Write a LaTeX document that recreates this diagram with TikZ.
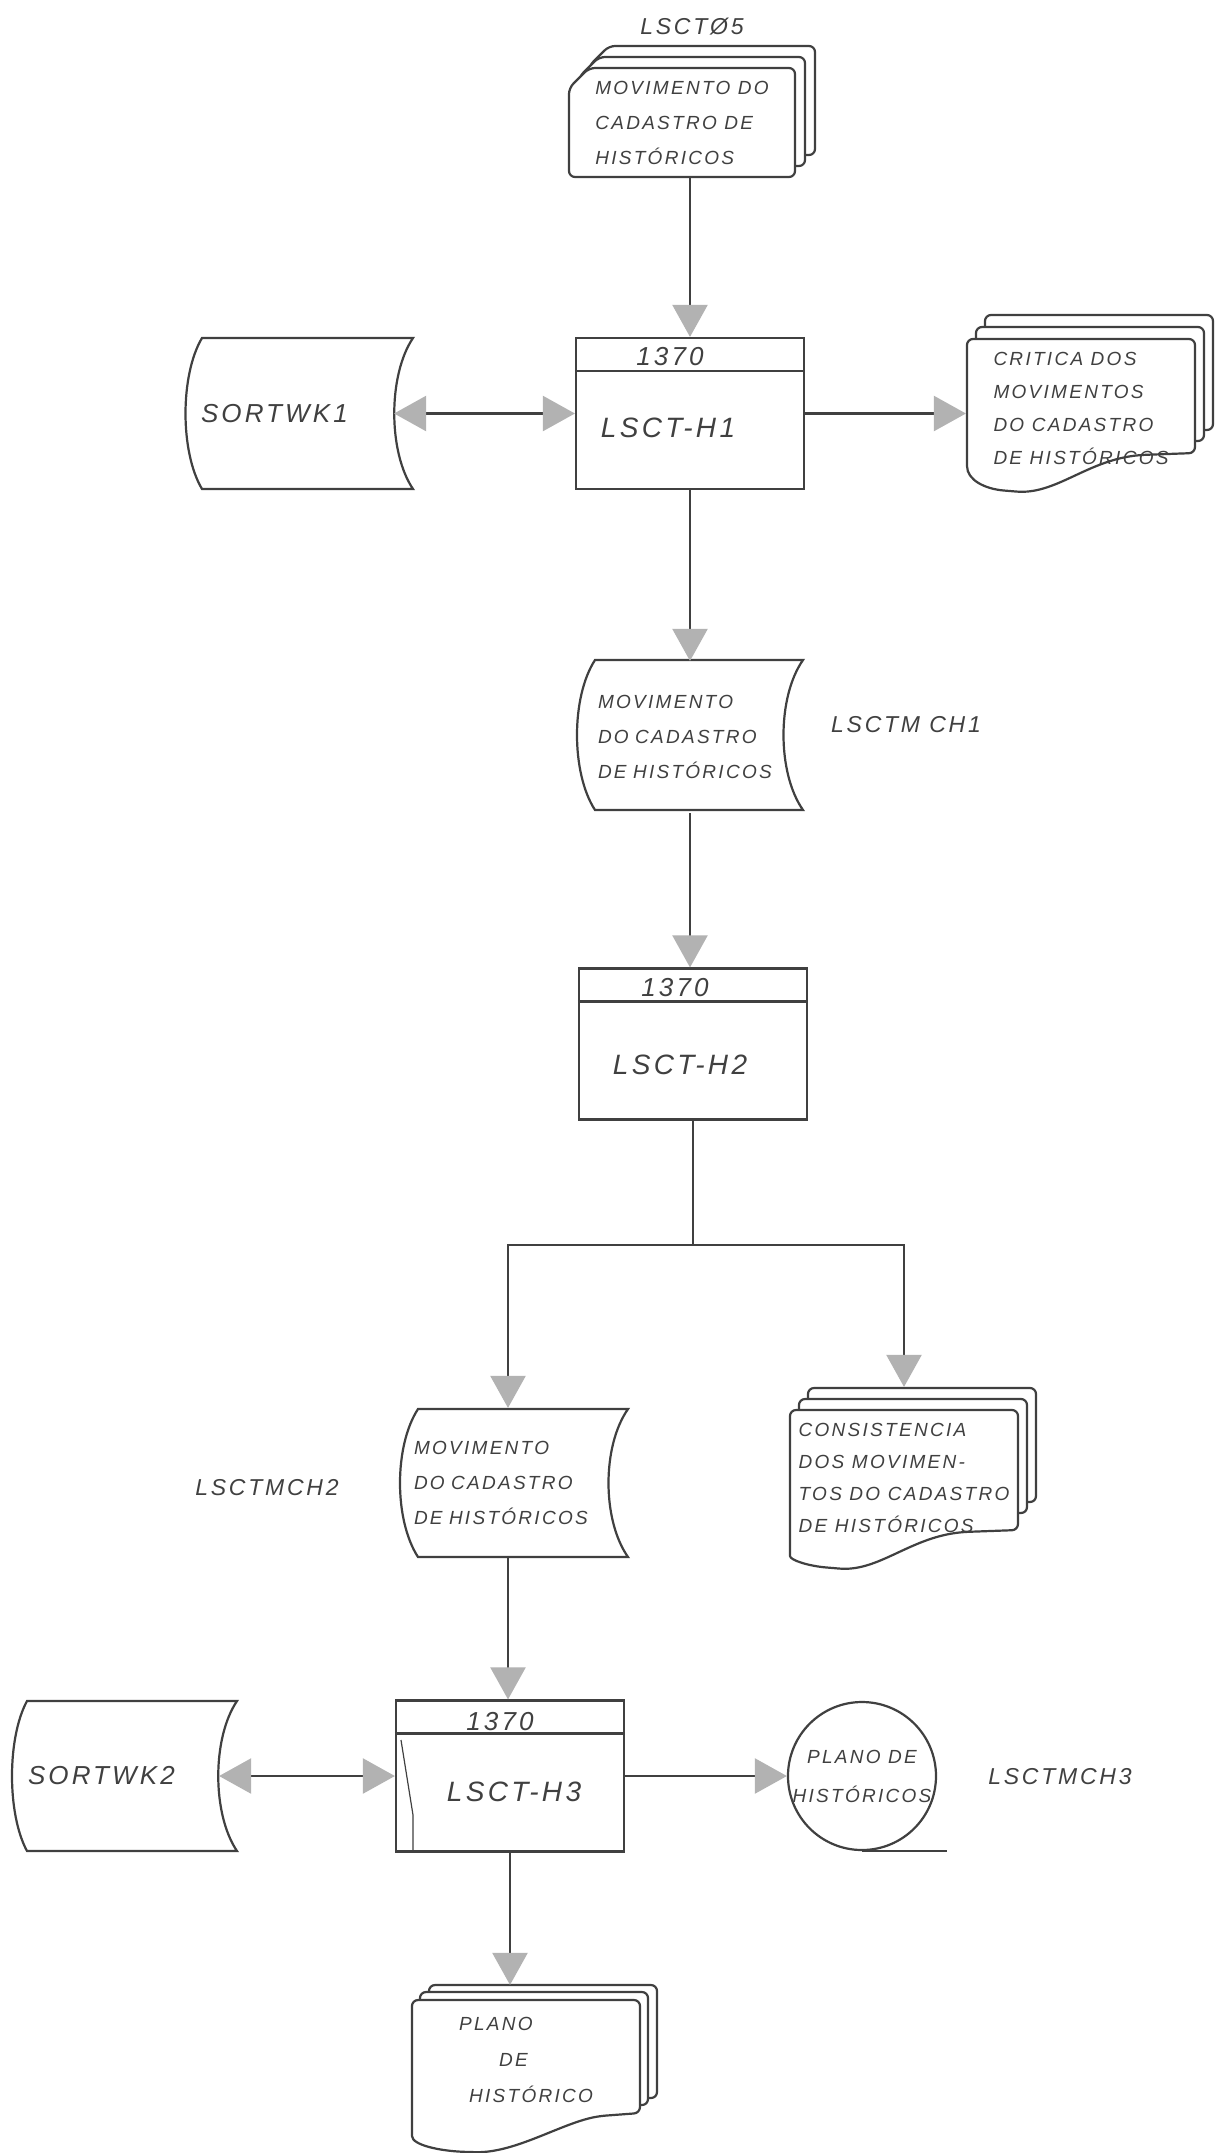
\documentclass[tikz,border=0pt]{standalone}
\usepackage{fontspec}
\setmainfont{Liberation Sans}[LetterSpace=12]
\usepackage{tikz}
\usetikzlibrary{positioning,arrows.meta,calc}

\definecolor{ink}{gray}{0.25}
\definecolor{tip}{gray}{0.70}

\begin{document}
\begin{tikzpicture}[x=0.5pt, y=-0.5pt, line width=1.1pt, color=ink,
  big/.style={font=\itshape\fontsize{14}{16}\selectfont},
  mid/.style={font=\itshape\fontsize{13}{15}\selectfont},
  lbl/.style={font=\itshape\fontsize{11.5}{14}\selectfont},
  txt/.style={font=\itshape\fontsize{9.5}{17.5}\selectfont, align=left},
  proc/.style={draw, minimum width=114pt, minimum height=75.5pt, inner sep=0pt},
  sheet/.style={fill=white, rounded corners=3pt},
  flow/.style={-{Triangle[length=16pt,width=17.5pt,color=tip]}},
  dflow/.style={{Triangle[length=16pt,width=17.5pt,color=tip]}-{Triangle[length=16pt,width=17.5pt,color=tip]}}]

  % Page
  \fill[white] (0,0) rectangle (1215,2153);
  \useasboundingbox (0,0) rectangle (1215,2153);

  % Input cards LSCT05
  \node[lbl] (c05lbl) at (692,27) {LSCTØ5};
  \filldraw[sheet] (589,66) -- (609,46) -- (815,46) -- (815,155) -- (589,155) -- cycle;
  \filldraw[sheet] (579,77) -- (599,57) -- (805,57) -- (805,166) -- (579,166) -- cycle;
  \filldraw[sheet] (569,88) -- (589,68) -- (795,68) -- (795,177) -- (569,177) -- cycle;
  \node[txt, minimum width=113pt, minimum height=54.5pt] (c05) at (682,122.5)
    {MOVIMENTO DO\\CADASTRO DE\\HISTÓRICOS};

  % Program LSCT-H1
  \node[proc] (h1) at (690,413.5) {};
  \draw ($(h1.north west)+(0,34)$) -- ($(h1.north east)+(0,34)$);
  \node[mid] (h1cpu) at (670,357) {1370};
  \node[big] (h1name) at (668,428) {LSCT-H1};

  % Work file SORTWK1
  \draw (202,338) -- (413,338) .. controls (388,375) and (388,452) .. (413,489)
    -- (202,489) .. controls (180,452) and (180,375) .. (202,338) -- cycle;
  \node[mid, align=left, text width=88pt, minimum width=104pt, minimum height=75.5pt] (sw1) at (289,413.5) {SORTWK1};

  % Report CRITICA
  \filldraw[sheet] (985,315) rectangle (1213,430);
  \filldraw[sheet] (976,327) rectangle (1204,441);
  \filldraw[sheet] (967,460) -- (967,339) -- (1195,339) -- (1195,453) -- (1140,455)
    .. controls (1085,462) and (1055,495) .. (1010,491)
    .. controls (985,489) and (967,480) .. (967,460) -- cycle;
  \node[txt, font=\itshape\fontsize{9.5}{16.5}\selectfont, minimum width=114pt, minimum height=64pt] (crit) at (1081,408)
    {CRITICA DOS\\MOVIMENTOS\\DO CADASTRO\\DE HISTÓRICOS};

  % Disk file LSCTMCH1
  \draw (595,660) -- (803,660) .. controls (777,697) and (777,773) .. (803,810)
    -- (595,810) .. controls (571,773) and (571,697) .. (595,660) -- cycle;
  \node[txt, text width=92pt, minimum width=103pt, minimum height=75pt] (mov2) at (690,737)
    {MOVIMENTO\\DO CADASTRO\\DE HISTÓRICOS};
  \node[lbl] (mch1) at (906,725) {LSCTM CH1};

  % Program LSCT-H2
  \node[proc] (h2) at (693,1044) {};
  \draw ($(h2.north west)+(0,34)$) -- ($(h2.north east)+(0,34)$);
  \node[mid] (h2cpu) at (675,988) {1370};
  \node[big] (h2name) at (680,1065) {LSCT-H2};

  % Disk file LSCTMCH2
  \draw (418,1409) -- (628,1409) .. controls (602,1446) and (602,1520) .. (628,1557)
    -- (418,1557) .. controls (394,1520) and (394,1446) .. (418,1409) -- cycle;
  \node[txt, text width=94pt, minimum width=104pt, minimum height=74pt] (mov3) at (508,1483)
    {MOVIMENTO\\DO CADASTRO\\DE HISTÓRICOS};
  \node[lbl] (mch2) at (267,1488) {LSCTMCH2};

  % Report CONSISTENCIA
  \filldraw[sheet] (808,1388) rectangle (1036,1502);
  \filldraw[sheet] (799,1399) rectangle (1027,1513);
  \filldraw[sheet] (790,1550) -- (790,1410) -- (1018,1410) -- (1018,1530) -- (963,1532)
    .. controls (908,1539) and (878,1572) .. (833,1568)
    .. controls (808,1566) and (790,1560) .. (790,1550) -- cycle;
  \node[txt, font=\itshape\fontsize{9.5}{16}\selectfont, minimum width=114pt, minimum height=68pt] (cons) at (904,1478)
    {CONSISTENCIA\\DOS MOVIMEN-\\TOS DO CADASTRO\\DE HISTÓRICOS};

  % Program LSCT-H3
  \node[proc] (h3) at (510,1776) {};
  \draw ($(h3.north west)+(0,34)$) -- ($(h3.north east)+(0,34)$);
  \draw[line width=0.6pt] (401,1740) -- (413,1815) -- (413,1851);
  \node[mid] (h3cpu) at (500,1722) {1370};
  \node[big] (h3name) at (514,1792) {LSCT-H3};

  % Work file SORTWK2
  \draw (27,1701) -- (237,1701) .. controls (212,1738) and (212,1814) .. (237,1851)
    -- (27,1851) .. controls (7,1814) and (7,1738) .. (27,1701) -- cycle;
  \node[mid, align=left, text width=87pt, minimum width=103pt, minimum height=75pt] (sw2) at (115,1776) {SORTWK2};

  % Tape LSCTMCH3
  \node[circle, draw, minimum size=73pt, inner sep=0pt, align=center,
    font=\itshape\fontsize{9.5}{19.5}\selectfont] (tape) at (862,1776) {PLANO DE\\HISTÓRICOS};
  \draw (tape.south) -- ++(85,0);
  \node[lbl] (mch3) at (1060,1777) {LSCTMCH3};

  % Report PLANO DE HISTORICO
  \filldraw[sheet] (429,1985) rectangle (657,2098);
  \filldraw[sheet] (420,1992) rectangle (648,2105);
  \filldraw[sheet] (412,2130) -- (412,2000) -- (640,2000) -- (640,2113) -- (600,2116)
    .. controls (560,2124) and (515,2153) .. (470,2152)
    .. controls (440,2151) and (412,2145) .. (412,2130) -- cycle;
  \node[txt, font=\itshape\fontsize{9.5}{18}\selectfont, minimum width=114pt, minimum height=60pt] (plano) at (526,2060)
    {PLANO\\\hspace*{20pt}DE\\\hspace*{5pt}HISTÓRICO};

  % Flow lines
  \draw[flow] (c05.south -| h1.north) -- (h1.north);
  \draw[dflow] (sw1.east) -- (h1.west);
  \draw[flow] (h1.east) -- (h1.east -| crit.west);
  \draw[flow] (h1.south) -- (mov2.north);
  \draw[flow] (mov2.south) -- (mov2.south |- h2.north);
  \coordinate (jn) at (693,1245);
  \draw (h2.south) -- (jn);
  \draw[flow] (jn) -| (mov3.north);
  \draw[flow, shorten >=11pt] (jn) -| (cons.north);
  \draw[flow] (mov3.south) -- (mov3.south |- h3.north);
  \draw[dflow] (sw2.east) -- (h3.west);
  \draw[flow] (h3.east) -- (tape.west);
  \draw[flow, shorten >=7pt] (h3.south) -- (h3.south |- plano.north);
\end{tikzpicture}
\end{document}
